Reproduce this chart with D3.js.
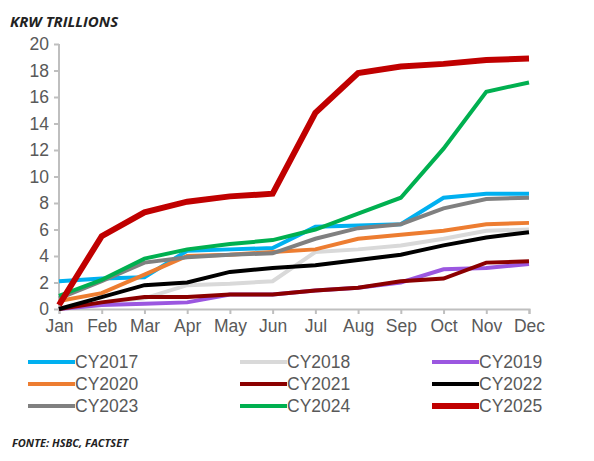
<!DOCTYPE html>
<html>
<head>
<script src="https://cdn.jsdelivr.net/npm/d3@7"></script>
<style>body{margin:0;background:#fff}</style>
</head>
<body>
<svg width="594" height="461" id="mainsvg"></svg>
<script>
const months = ['Jan','Feb','Mar','Apr','May','Jun','Jul','Aug','Sep','Oct','Nov','Dec'];
const yTicks = [0,2,4,6,8,10,12,14,16,18,20];
const names = ['CY2017','CY2018','CY2019','CY2020','CY2021','CY2022','CY2023','CY2024','CY2025'];
const colors = ['#00b0f0','#d9d9d9','#9b57e0','#ed7d31','#8b0000','#000000','#808080','#00b050','#c00000'];
const cy2017 = [2.1,2.3,2.4,4.4,4.5,4.6,6.2,6.3,6.4,8.4,8.7,8.7];
const cy2018 = [0,0.5,0.8,1.8,1.9,2.1,4.3,4.5,4.8,5.3,5.9,6.0];
const cy2019 = [0,0.3,0.4,0.5,1.1,1.1,1.4,1.6,2.0,3.0,3.1,3.4];
const cy2020 = [0.6,1.2,2.6,4.0,4.1,4.3,4.5,5.3,5.6,5.9,6.4,6.5];
const cy2021 = [0,0.5,0.9,0.9,1.1,1.1,1.4,1.6,2.1,2.3,3.5,3.6];
const cy2022 = [0,0.9,1.8,2.0,2.8,3.1,3.3,3.7,4.1,4.8,5.4,5.8];
const cy2023 = [0.8,2.1,3.5,3.9,4.1,4.2,5.3,6.1,6.4,7.6,8.3,8.4];
const cy2024 = [1.0,2.2,3.8,4.5,4.9,5.2,6.0,7.2,8.4,12.1,16.4,17.1];
const cy2025 = [0.3,5.5,7.3,8.1,8.5,8.7,14.8,17.8,18.3,18.5,18.8,18.9];
const series = [cy2017,cy2018,cy2019,cy2020,cy2021,cy2022,cy2023,cy2024,cy2025];

const svg = d3.select('svg');
const font = "'Liberation Sans', Arial, sans-serif";
const x = d3.scalePoint().domain(months).range([59, 529]);
const y = d3.scaleLinear().domain([0, 20]).range([309, 44]);

svg.append('text').attr('x', 10).attr('y', 27)
  .attr('font-family', "'Open Sans', sans-serif").attr('font-weight', 'bold').attr('font-style', 'italic')
  .attr('font-size', 15).attr('fill', '#222').text('KRW TRILLIONS');

const yAxis = svg.append('g').attr('transform', 'translate(59,0)')
  .call(d3.axisLeft(y).tickValues(yTicks).tickSize(5).tickPadding(5));
const xAxis = svg.append('g').attr('transform', 'translate(0,309)')
  .call(d3.axisBottom(x).tickSize(5).tickPadding(6));
[yAxis, xAxis].forEach(a => {
  a.select('.domain').attr('stroke', '#bfbfbf').attr('stroke-width', 2);
  a.selectAll('line').attr('stroke', '#bfbfbf').attr('stroke-width', 2);
  a.selectAll('text').attr('font-family', font).attr('font-size', 17.5).attr('fill', '#595959');
});
yAxis.select('.domain').attr('d', 'M0,44V309');

const line = d3.line().x((d, i) => x(months[i])).y(d => y(d));
svg.append('g').selectAll('path').data(series).join('path')
  .attr('d', line).attr('fill', 'none')
  .attr('stroke', (d, i) => colors[i])
  .attr('stroke-width', (d, i) => i === 8 ? 6 : 4)
  .attr('stroke-linejoin', 'miter');

const legend = svg.append('g').selectAll('g').data(names).join('g')
  .attr('transform', (d, i) => `translate(${[28, 240, 432][i % 3]},${362 + Math.floor(i / 3) * 22})`);
legend.append('line').attr('x1', 0).attr('x2', 47)
  .attr('stroke', (d, i) => colors[i]).attr('stroke-width', (d, i) => i === 8 ? 6 : 4);
legend.append('text').attr('x', 47).attr('y', 6)
  .attr('font-family', font).attr('font-size', 17.5).attr('fill', '#595959').text(d => d);

svg.append('text').attr('x', 12).attr('y', 447)
  .attr('font-family', "'Open Sans', sans-serif").attr('font-weight', 'bold').attr('font-style', 'italic')
  .attr('font-size', 11).attr('fill', '#222').text('FONTE: HSBC, FACTSET');
</script>
</body>
</html>
